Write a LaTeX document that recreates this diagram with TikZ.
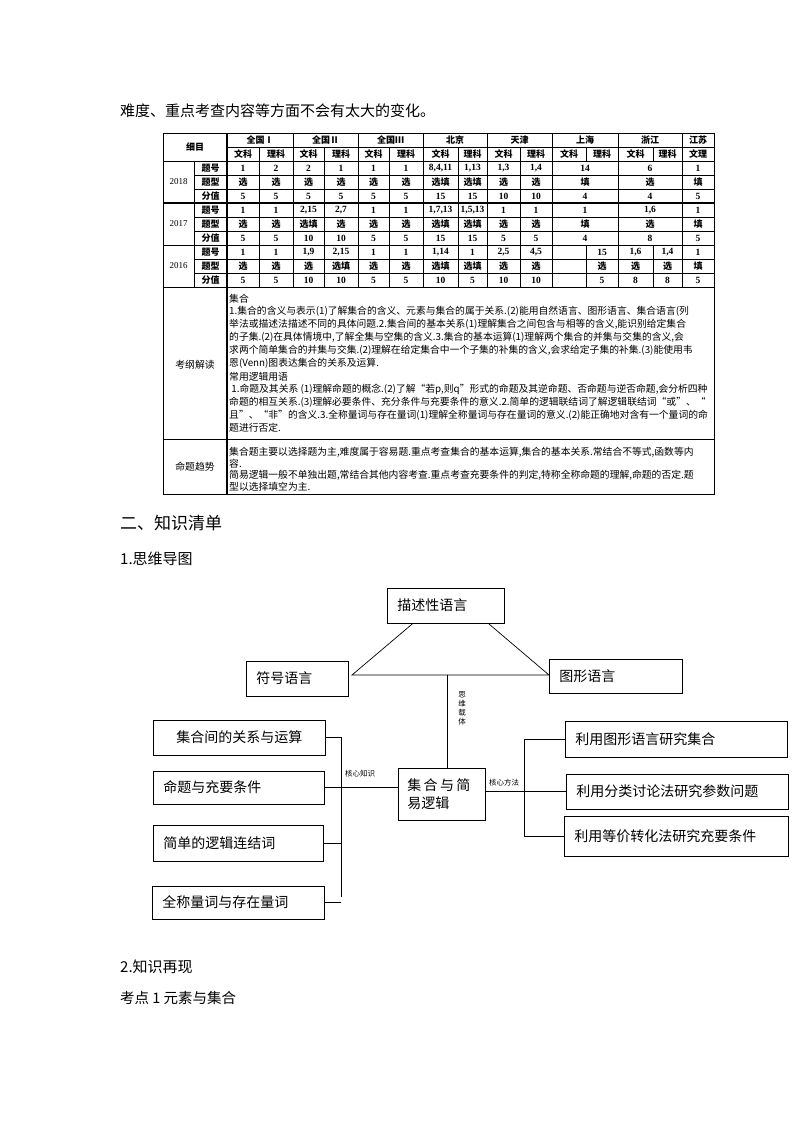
\documentclass[tikz,border=0pt]{standalone}
\usepackage{fontspec}
\setmainfont{Liberation Serif}
\newfontfamily\cjk{Noto Sans CJK SC}
\usetikzlibrary{positioning,calc}

\tikzset{
  box/.style={draw,line width=.8pt,anchor=west,inner xsep=10pt,inner ysep=0pt,align=left,font=\cjk\fontsize{14}{18}\selectfont},
  tag/.style={font=\cjk\fontsize{7.5}{9}\selectfont,inner sep=0pt,align=center},
  cell/.style={font=\bfseries\fontsize{9.5}{10}\selectfont,inner sep=0pt},
  zcell/.style={font=\cjk\bfseries\fontsize{9}{10}\selectfont,inner sep=0pt},
  year/.style={font=\fontsize{9}{10}\selectfont,inner sep=0pt},
  txt/.style={font=\cjk\fontsize{9.8}{12}\selectfont,anchor=west,inner sep=0pt},
  head/.style={font=\cjk\fontsize{15}{18}\selectfont,anchor=west,inner sep=0pt},
  grid/.style={line width=.6pt},
  bold/.style={line width=1.4pt},
  link/.style={line width=.7pt}
}

\begin{document}
\begin{tikzpicture}[x=1pt,y=-1pt]
\useasboundingbox[fill=white] (0,0) rectangle (794,1123);

% page text
\node[head] (intro) at (120,111) {难度、重点考查内容等方面不会有太大的变化。};
\node[head,font=\cjk\fontsize{17}{20}\selectfont] (sec2) at (120,523) {二、知识清单};
\node[head] (map) at (120,559) {1.思维导图};
\node[head] (recall) at (120,967) {2.知识再现};
\node[head,font=\cjk\fontsize{14.5}{18}\selectfont] (kp1) at (120,998) {考点 1 元素与集合};

% table grid
\draw[grid] (163,133) rectangle (714,494);
\draw[bold] (227,133) -- (227,494);
\foreach \x in {293,358,423,487,552,618,682} \draw[grid] (\x,133) -- (\x,287);
\foreach \x in {259,324,389,458,520} \draw[grid] (\x,147) -- (\x,287);
\foreach \x in {586,653} {\draw[grid] (\x,147) -- (\x,161); \draw[grid] (\x,245) -- (\x,287);}
\draw[grid] (194,161) -- (194,287);
\draw[grid] (227,147) -- (714,147);
\foreach \y in {161,245,287,439} \draw[grid] (163,\y) -- (714,\y);
\draw[bold] (163,203) -- (714,203);
\foreach \y in {175,189,217,231,259,273} \draw[grid] (194,\y) -- (714,\y);

% table head
\node[zcell] (hd) at (195,147) {细目};
\foreach \x/\t [count=\k] in {260/全国Ⅰ,325.5/全国Ⅱ,390.5/全国Ⅲ,455/北京,519.5/天津,585/上海,650/浙江,698/江苏}
  \node[zcell] (h\k) at (\x,140) {\t};
\foreach \x [count=\k] in {243,308.5,373.5,440.5,503.5,569,635.5} \node[zcell] (w\k) at (\x,154) {文科};
\foreach \x [count=\k] in {276,341,406,472.5,536,602,667.5} \node[zcell] (l\k) at (\x,154) {理科};
\node[zcell] (wl) at (698,154) {文理};

% years and row labels
\foreach \y/\t in {182/2018,224/2017,266/2016} \node[year] (y\t) at (178.5,\y) {\t};
\foreach \y [count=\k] in {168,210,252} {
  \node[zcell] (a\k) at (210.5,\y) {题号};
  \node[zcell] (b\k) at (210.5,\y+14) {题型};
  \node[zcell] (c\k) at (210.5,\y+28) {分值};
}

% 2018
\foreach \x/\t [count=\k] in {243/1,276/2,308.5/2,341/1,373.5/1,406/1,440.5/{8,4,11},472.5/{1,13},503.5/{1,3},536/{1,4},585/14,650/6,698/1}
  \node[cell] (r1c\k) at (\x,168) {\t};
\foreach \x/\t [count=\k] in {243/选,276/选,308.5/选,341/选,373.5/选,406/选,440.5/选填,472.5/选填,503.5/选,536/选,585/填,650/选,698/填}
  \node[zcell] (r2c\k) at (\x,182) {\t};
\foreach \x/\t [count=\k] in {243/5,276/5,308.5/5,341/5,373.5/5,406/5,440.5/15,472.5/15,503.5/10,536/10,585/4,650/4,698/5}
  \node[cell] (r3c\k) at (\x,196) {\t};
% 2017
\foreach \x/\t [count=\k] in {243/1,276/1,308.5/{2,15},341/{2,7},373.5/1,406/1,440.5/{1,7,13},472.5/{1,5,13},503.5/1,536/1,585/1,650/{1,6},698/1}
  \node[cell] (r4c\k) at (\x,210) {\t};
\foreach \x/\t [count=\k] in {243/选,276/选,308.5/选填,341/选,373.5/选,406/选,440.5/选填,472.5/选填,503.5/选,536/选,585/填,650/选,698/填}
  \node[zcell] (r5c\k) at (\x,224) {\t};
\foreach \x/\t [count=\k] in {243/5,276/5,308.5/10,341/10,373.5/5,406/5,440.5/15,472.5/15,503.5/5,536/5,585/4,650/8,698/5}
  \node[cell] (r6c\k) at (\x,238) {\t};
% 2016
\foreach \x/\t [count=\k] in {243/1,276/1,308.5/{1,9},341/{2,15},373.5/1,406/1,440.5/{1,14},472.5/1,503.5/{2,5},536/{4,5},602/15,635.5/{1,6},667.5/{1,4},698/1}
  \node[cell] (r7c\k) at (\x,252) {\t};
\foreach \x/\t [count=\k] in {243/选,276/选,308.5/选,341/选填,373.5/选,406/选,440.5/选填,472.5/选填,503.5/选,536/选,602/选,635.5/选,667.5/选,698/填}
  \node[zcell] (r8c\k) at (\x,266) {\t};
\foreach \x/\t [count=\k] in {243/5,276/5,308.5/10,341/10,373.5/5,406/5,440.5/10,472.5/5,503.5/10,536/10,602/5,635.5/8,667.5/8,698/5}
  \node[cell] (r9c\k) at (\x,280) {\t};

% syllabus and trend
\node[txt,anchor=center] (kg) at (195,365) {考纲解读};
\node[txt,anchor=center] (mt) at (195,467) {命题趋势};
\foreach \t [count=\k] in {{集合},
  {1.集合的含义与表示(1)了解集合的含义、元素与集合的属于关系.(2)能用自然语言、图形语言、集合语言(列},
  {举法或描述法描述不同的具体问题.2.集合间的基本关系(1)理解集合之间包含与相等的含义,能识别给定集合},
  {的子集.(2)在具体情境中,了解全集与空集的含义.3.集合的基本运算(1)理解两个集合的并集与交集的含义,会},
  {求两个简单集合的并集与交集.(2)理解在给定集合中一个子集的补集的含义,会求给定子集的补集.(3)能使用韦},
  {恩(Venn)图表达集合的关系及运算.},
  {常用逻辑用语},
  {\ 1.命题及其关系 (1)理解命题的概念.(2)了解“若p,则q”形式的命题及其逆命题、否命题与逆否命题,会分析四种},
  {命题的相互关系.(3)理解必要条件、充分条件与充要条件的意义.2.简单的逻辑联结词了解逻辑联结词“或”、“},
  {且”、“非”的含义.3.全称量词与存在量词(1)理解全称量词与存在量词的意义.(2)能正确地对含有一个量词的命},
  {题进行否定.}}
  \node[txt] (kg\k) at (229,{286+12.9*\k}) {\t};
\foreach \t [count=\k] in {{集合题主要以选择题为主,难度属于容易题.重点考查集合的基本运算,集合的基本关系.常结合不等式,函数等内},
  {容.},
  {简易逻辑一般不单独出题,常结合其他内容考查.重点考查充要条件的判定,特称全称命题的理解,命题的否定.题},
  {型以选择填空为主.}}
  \node[txt] (mt\k) at (229,{440+11.8*\k}) {\t};

% mind map
\node[box,text width=97pt,minimum height=35pt] (desc) at (387,605.5) {描述性语言};
\node[box,text width=82pt,minimum height=35pt] (sym) at (246,678.5) {符号语言};
\node[box,text width=113pt,minimum height=34pt] (graph) at (549,676) {图形语言};
\node[box,text width=152pt,minimum height=35pt,align=center] (rel) at (153,737.5) {集合间的关系与运算};
\node[box,text width=151pt,minimum height=33pt] (prop) at (153,787.5) {命题与充要条件};
\node[box,text width=150pt,minimum height=36pt] (simp) at (153,843) {简单的逻辑连结词};
\node[box,text width=152pt,minimum height=33pt] (quant) at (152,902.5) {全称量词与存在量词};
\node[box,text width=69pt,inner xsep=9pt,minimum height=52pt] (core) at (398,794) {集\,合\,与\,简\\易逻辑};
\node[box,text width=202pt,minimum height=36pt] (m1) at (565,739) {利用图形语言研究集合};
\node[box,text width=202pt,minimum height=35pt] (m2) at (566,791.5) {利用分类讨论法研究参数问题};
\node[box,text width=204pt,minimum height=40pt] (m3) at (564,836.5) {利用等价转化法研究充要条件};

\coordinate (tl) at (352,675);
\coordinate (tb) at (447,675);
\coordinate (lk) at (341,897);
\coordinate (rk) at (524,836.5);
\draw[link] ($(desc.south west)!.22!(desc.south east)$) -- (tl) -- (tl -| graph.west)
  -- ($(desc.south west)!.86!(desc.south east)$);
\draw[link] (tb) -- (tb |- core.north);
\node[tag] (carrier) at (462,708) {思\\维\\载\\体};
\draw[link] (rel.east) -| (lk);
\draw[link] (prop.east) -- (prop.east -| core.west);
\draw[link] (simp.east) -- (simp.east -| lk);
\draw[link] (quant.east) -- (quant.east -| lk);
\node[tag] (know) at (360,774) {核心知识};
\draw[link] (m1.west) -| (rk) -- (m3.west);
\draw[link] (core.east |- m2.west) -- (m2.west);
\node[tag] (meth) at (504,783) {核心方法};
\end{tikzpicture}
\end{document}
